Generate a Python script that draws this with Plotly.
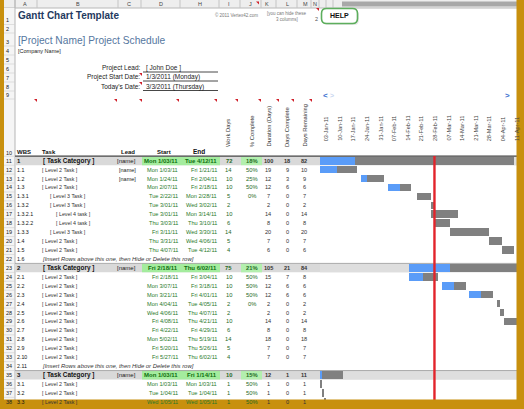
import plotly.graph_objects as go
import pandas as pd

W, H = 524, 409
FONT = "Liberation Sans, Arial, sans-serif"

# ---------------- data ----------------
rows = list(range(11, 39))
wbs = ["1", "1.1", "1.2", "1.3", "1.3.1", "1.3.2", "1.3.2.1", "1.3.2.2", "1.3.3", "1.4", "1.5", "1.6",
       "2", "2.1", "2.2", "2.3", "2.4", "2.5", "2.6", "2.7", "2.8", "2.9", "2.10", "2.11",
       "3", "3.1", "3.2", "3.3"]
# 0 = category, 2/3/4 = task level, -1 = insert-row note
levels = [0, 2, 2, 2, 3, 3, 4, 4, 3, 2, 2, -1,
          0, 2, 2, 2, 2, 2, 2, 2, 2, 2, 2, -1,
          0, 2, 2, 2]
leads = ["[name]", "[name]", "[name]", "", "", "", "", "", "", "", "", "",
         "[name]", "", "", "", "", "", "", "", "", "", "", "",
         "[name]", "", "", ""]
starts = ["2011-01-03", "2011-01-03", "2011-01-24", "2011-02-07", "2011-02-22", "2011-03-01", "2011-03-01",
          "2011-03-03", "2011-03-11", "2011-03-31", "2011-04-07", None,
          "2011-02-18", "2011-02-18", "2011-03-07", "2011-03-21", "2011-04-04", "2011-04-06", "2011-04-08",
          "2011-04-22", "2011-05-02", "2011-05-20", "2011-05-27", None,
          "2011-01-03", "2011-01-03", "2011-01-04", "2011-01-05"]
ends = ["2011-04-12", "2011-01-21", "2011-02-04", "2011-02-18", "2011-02-28", "2011-03-02", "2011-03-14",
        "2011-03-10", "2011-03-30", "2011-04-06", "2011-04-12", None,
        "2011-06-02", "2011-03-04", "2011-03-18", "2011-04-01", "2011-04-05", "2011-04-07", "2011-04-21",
        "2011-04-29", "2011-05-19", "2011-05-26", "2011-06-02", None,
        "2011-01-14", "2011-01-03", "2011-01-04", "2011-01-05"]
work_days = [72, 14, 10, 10, 5, 2, 10, 6, 14, 5, 4, None,
             75, 10, 10, 10, 2, 2, 10, 6, 14, 5, 4, None,
             10, 1, 1, 1]
pct_complete = [18, 50, 25, 50, 0, None, None, None, None, None, None, None,
                21, 50, 50, 50, 0, None, None, None, None, None, None, None,
                15, 50, 50, 50]
duration = [100, 19, 12, 12, 7, 2, 14, 8, 20, 7, 6, None,
            105, 15, 12, 12, 2, 2, 14, 8, 18, 7, 7, None,
            12, 1, 1, 1]
days_complete = [18, 9, 3, 6, 0, 0, 0, 0, 0, 0, 0, None,
                 21, 7, 6, 6, 0, 0, 0, 0, 0, 0, 0, None,
                 1, 0, 0, 0]
days_remaining = [82, 10, 9, 6, 7, 2, 14, 8, 20, 7, 6, None,
                  84, 8, 6, 6, 2, 2, 14, 8, 18, 7, 7, None,
                  11, 1, 1, 1]
week_labels = ["03-Jan-11", "10-Jan-11", "17-Jan-11", "24-Jan-11", "31-Jan-11", "07-Feb-11", "14-Feb-11",
               "21-Feb-11", "28-Feb-11", "07-Mar-11", "14-Mar-11", "21-Mar-11", "28-Mar-11", "04-Apr-11",
               "11-Apr-11"]
today = "2011-03-03"
header_cols = ["Work Days", "% Complete", "Duration (Days)", "Days Complete", "Days Remaining"]

# ---------------- helpers ----------------
def X(p):
    return p / W

def Y(p):
    return 1 - p / H

ann = []
shapes = []

def txt(x, y, s, size=6, color="#222", anchor="left", bold=False, italic=False,
        xref="paper", yref="paper", angle=0, yanchor="middle", family=FONT):
    if bold:
        s = f"<b>{s}</b>"
    if italic:
        s = f"<i>{s}</i>"
    ann.append(dict(x=x, y=y, xref=xref, yref=yref, text=s, showarrow=False, xanchor=anchor,
                    yanchor=yanchor, textangle=angle, borderpad=0,
                    font=dict(size=size, color=color, family=family)))

def rect(x0, y0, x1, y1, fill, line_color=None, lw=0, layer="below", xref="paper", yref="paper"):
    shapes.append(dict(type="rect", x0=x0, x1=x1, y0=y0, y1=y1, xref=xref, yref=yref,
                       fillcolor=fill, layer=layer,
                       line=dict(color=line_color or fill, width=lw)))

def line(x0, y0, x1, y1, color, width=1, layer="below", xref="paper", yref="paper", dash="solid"):
    shapes.append(dict(type="line", x0=x0, x1=x1, y0=y0, y1=y1, xref=xref, yref=yref,
                       layer=layer, line=dict(color=color, width=width, dash=dash)))

def P(x, y):
    return f"{X(x):.5f},{Y(y):.5f}"

def tri(x, y, s=3):
    shapes.append(dict(type="path", path=f"M {P(x, y)} L {P(x + s, y)} L {P(x + s, y + s)} Z",
                       xref="paper", yref="paper", fillcolor="#D0202A", line=dict(width=0),
                       layer="above"))

ROW_PX = {1: 20, 2: 29, 3: 42, 4: 51, 5: 60, 6: 69, 7: 78, 8: 87, 9: 95, 10: 153}
def rowpx(r):
    return 160.7 + (r - 11) * 8.93

# ---------------- backgrounds ----------------
# column letters header
rect(X(4), Y(0), X(517), Y(8), "#EEEEEE")
rect(X(342), Y(1.5), X(517), Y(6.5), "#A8A8A8")
line(X(4), Y(8), X(517), Y(8), "#B8B8B8", 1)
for cx in [15, 37, 118, 141, 180, 219, 240, 261, 276, 297, 311, 319, 326, 333]:
    line(X(cx), Y(0), X(cx), Y(8), "#C4C4C4", 1)
for letter, cx in [("A", 25), ("B", 78), ("C", 129), ("D", 161), ("H", 200), ("I", 229), ("J", 250),
                   ("K", 267), ("L", 287), ("M", 305), ("N", 315)]:
    txt(X(cx), Y(4), letter, size=5.5, color="#444", anchor="center")

# row-number column
rect(X(4), Y(8), X(15), Y(409), "#F5F5F5")
line(X(15), Y(0), X(15), Y(409), "#B5B5B5", 1)
for b in [24.5, 33, 46, 55, 64, 73, 82, 91, 99, 156.2]:
    line(X(4), Y(b), X(15), Y(b), "#CFCFCF", 0.6)
for r in rows:
    b = rowpx(r) + 4.46
    line(X(4), Y(b), X(15), Y(b), "#CFCFCF", 0.6)
for r, ypx in ROW_PX.items():
    txt(X(5), Y(ypx), str(r), size=5.5, color="#222")
for r in rows:
    txt(X(5), r, str(r), size=5.5, color="#222", yref="y")

# category rows
for r, lv in zip(rows, levels):
    if lv == 0:
        rect(X(15), r - 0.5, 1, r + 0.5, "#D9D9D9", yref="y")
        rect(X(142), r - 0.5, X(220), r + 0.5, "#A4EC9E", yref="y")
        rect(X(241), r - 0.5, X(262), r + 0.5, "#B3EFAE", yref="y")
        rect(X(320), r - 0.5, 1, r + 0.5, "#DEDEDE", yref="y")
        line(X(15), r - 0.5, 1, r - 0.5, "#9A9A9A", 0.8, yref="y")

# header underline
line(X(15), Y(156.2), 1, Y(156.2), "#555555", 1.2)

# ---------------- top area text ----------------
txt(X(17), Y(15), "Gantt Chart Template", size=10, color="#1F3A60", bold=True)
txt(X(259), Y(15), "© 2011 Vertex42.com", size=4.5, color="#777", anchor="right")
txt(X(17), Y(40), "[Project Name] Project Schedule", size=10.2, color="#5577A0")
txt(X(17), Y(51), "[Company Name]", size=5.5, color="#222")
for ypx, lab, val in [(68, "Project Lead:", "[ John Doe ]"),
                      (77, "Project Start Date:", "1/3/2011 (Monday)"),
                      (86.5, "Today's Date:", "3/3/2011 (Thursday)")]:
    txt(X(141), Y(ypx), lab, size=6.5, color="#222", anchor="right")
    txt(X(145), Y(ypx), val, size=6.5, color="#222")
    line(X(143), Y(ypx + 4), X(218), Y(ypx + 4), "#333333", 0.9)

txt(X(287), Y(13.5), "[you can hide these", size=4.5, color="#777", anchor="center")
txt(X(287), Y(19.5), "3 columns]", size=4.5, color="#777", anchor="center")
txt(X(316), Y(19.5), "2", size=5.5, color="#555", anchor="center")

# HELP button
def rrect_path(x0, y0, x1, y1, r):
    return (f"M {P(x0 + r, y0)} L {P(x1 - r, y0)} Q {P(x1, y0)} {P(x1, y0 + r)} "
            f"L {P(x1, y1 - r)} Q {P(x1, y1)} {P(x1 - r, y1)} L {P(x0 + r, y1)} "
            f"Q {P(x0, y1)} {P(x0, y1 - r)} L {P(x0, y0 + r)} Q {P(x0, y0)} {P(x0 + r, y0)} Z")
shapes.append(dict(type="path", path=rrect_path(323, 10, 359, 25, 5), xref="paper", yref="paper",
                   fillcolor="#E8E8E8", line=dict(width=0), layer="below"))
shapes.append(dict(type="path", path=rrect_path(321.5, 8.5, 357.5, 23.5, 5), xref="paper", yref="paper",
                   fillcolor="#FFFFFF", line=dict(color="#5DAE5D", width=1.6), layer="below"))
txt(X(339.5), Y(16), "HELP", size=7, color="#111", anchor="center", bold=True)

# scroll arrows
txt(X(325), Y(95), "<b>&lt;</b>", size=8, color="#3A6FD0", anchor="center")
txt(X(332), Y(95), "<b>&gt;</b>", size=7, color="#C8D6F0", anchor="center")
txt(X(507), Y(95), "<b>&gt;</b>", size=8, color="#3A6FD0", anchor="center")

# comment indicators
for tx in [34, 114, 139, 176, 214, 235, 258, 276, 291, 309]:
    tri(tx, 99)
tri(139, 73)
tri(139, 82)
tri(316, 8)
tri(256, 1.5)

# ---------------- table header ----------------
txt(X(15.5), Y(152), "WBS", size=6, color="#111", bold=True)
txt(X(41), Y(152), "Task", size=6, color="#111", bold=True)
txt(X(120), Y(152), "Lead", size=6, color="#111", bold=True)
txt(X(164), Y(152), "Start", size=6, color="#111", bold=True, anchor="center")
txt(X(199), Y(152), "End", size=6.5, color="#111", bold=True, anchor="center")
for cx, lab in zip([228, 252, 268, 287, 304], header_cols):
    txt(X(cx), Y(148), lab, size=5.8, color="#333", angle=-90, anchor="center", yanchor="bottom")

# ---------------- table rows ----------------
def fmt_date(s):
    d = pd.Timestamp(s)
    return f"{d:%a} {d.month}/{d:%d}/{d:%y}"

for i, r in enumerate(rows):
    lv = levels[i]
    cat = lv == 0
    txt(X(15.5), r, wbs[i], size=6 if cat else 5.3, color="#111", bold=cat, yref="y")
    if lv == -1:
        txt(X(41), r, "[Insert Rows above this one, then Hide or Delete this row]", size=5.9,
            color="#333", italic=True, yref="y")
        continue
    if cat:
        txt(X(41.5), r, "[ Task Category ]", size=6.4, color="#111", bold=True, yref="y")
    else:
        indent = {2: 41, 3: 49, 4: 55}[lv]
        name = {2: "[ Level 2 Task ]", 3: "[ Level 3 Task ]", 4: "[ Level 4 task ]"}[lv]
        txt(X(indent), r, name, size=5.3, color="#333", yref="y")
    if leads[i]:
        txt(X(137), r, leads[i], size=5.5 if not cat else 6, color="#222", anchor="right", yref="y")
    green = "#0E6E0E" if cat else "#2A7A2A"
    txt(X(179), r, fmt_date(starts[i]), size=6 if cat else 5.6, color=green, anchor="right", bold=cat,
        yref="y")
    txt(X(218), r, fmt_date(ends[i]), size=6 if cat else 5.6, color=green, anchor="right", bold=cat,
        yref="y")
    txt(X(228.5), r, str(work_days[i]), size=5.8, color="#1F6B1F", anchor="center", bold=cat, yref="y")
    if pct_complete[i] is not None:
        txt(X(252), r, f"{pct_complete[i]}%", size=5.8, color="#1F6B1F", anchor="center", bold=cat,
            yref="y")
    txt(X(268), r, str(duration[i]), size=5.6, color="#333", anchor="center", bold=cat, yref="y")
    txt(X(287), r, str(days_complete[i]), size=5.6, color="#333", anchor="center", bold=cat, yref="y")
    txt(X(304), r, str(days_remaining[i]), size=5.6, color="#333", anchor="center", bold=cat, yref="y")

# ---------------- gantt bars ----------------
DAY = 86400000
done_y, done_base, done_x = [], [], []
left_y, left_base, left_x = [], [], []
for i, r in enumerate(rows):
    if starts[i] is None:
        continue
    s = pd.Timestamp(starts[i])
    dc = days_complete[i]
    rem = duration[i] - dc
    if dc > 0:
        done_y.append(r)
        done_base.append(s.strftime("%Y-%m-%d"))
        done_x.append(dc * DAY)
    if rem > 0:
        left_y.append(r)
        left_base.append((s + pd.Timedelta(days=dc)).strftime("%Y-%m-%d"))
        left_x.append(rem * DAY)

fig = go.Figure()
fig.add_trace(go.Bar(y=done_y, x=done_x, base=done_base, orientation="h", width=0.86,
                     marker=dict(color="#5A9CF8", line=dict(width=0)), showlegend=False,
                     hoverinfo="skip"))
fig.add_trace(go.Bar(y=left_y, x=left_x, base=left_base, orientation="h", width=0.86,
                     marker=dict(color="#808080", line=dict(width=0)), showlegend=False,
                     hoverinfo="skip"))

# week labels (on the date axis)
for lab in week_labels:
    d = pd.to_datetime(lab, format="%d-%b-%y") + pd.Timedelta(hours=84)
    ann.append(dict(x=d.strftime("%Y-%m-%d %H:%M"), y=Y(142), xref="x", yref="paper", text=lab,
                    showarrow=False, textangle=-90, xanchor="center", yanchor="bottom", borderpad=0,
                    font=dict(size=5.6, color="#444", family=FONT)))

# today line
line(today, Y(156), today, Y(409), "#E2242B", 2.4, layer="above", xref="x")

# gold frame
rect(0, 0, X(4), 1, "#C8900E", layer="above")
rect(X(516.5), 0, 1, 1, "#C8900E", layer="above")
rect(0, 0, 1, Y(399.5), "#C8900E", layer="above")

px_per_day = 1.94
x_end = pd.Timestamp("2011-01-03") + pd.Timedelta(days=(W - 320) / px_per_day)
fig.update_layout(
    width=W, height=H, margin=dict(l=0, r=0, t=0, b=0),
    paper_bgcolor="white", plot_bgcolor="rgba(0,0,0,0)",
    barmode="overlay", bargap=0,
    xaxis=dict(type="date", domain=[320 / W, 1], range=["2011-01-03", x_end.strftime("%Y-%m-%d %H:%M")],
               visible=False, fixedrange=True),
    yaxis=dict(range=[11 + (H - 160.7) / 8.93, 11 - 160.7 / 8.93], domain=[0, 1], visible=False,
               fixedrange=True),
    annotations=ann, shapes=shapes, showlegend=False,
)
fig.write_html("out.html", config={"displayModeBar": False, "staticPlot": True},
               post_script="document.body.style.margin='0px';document.body.style.overflow='hidden';")
